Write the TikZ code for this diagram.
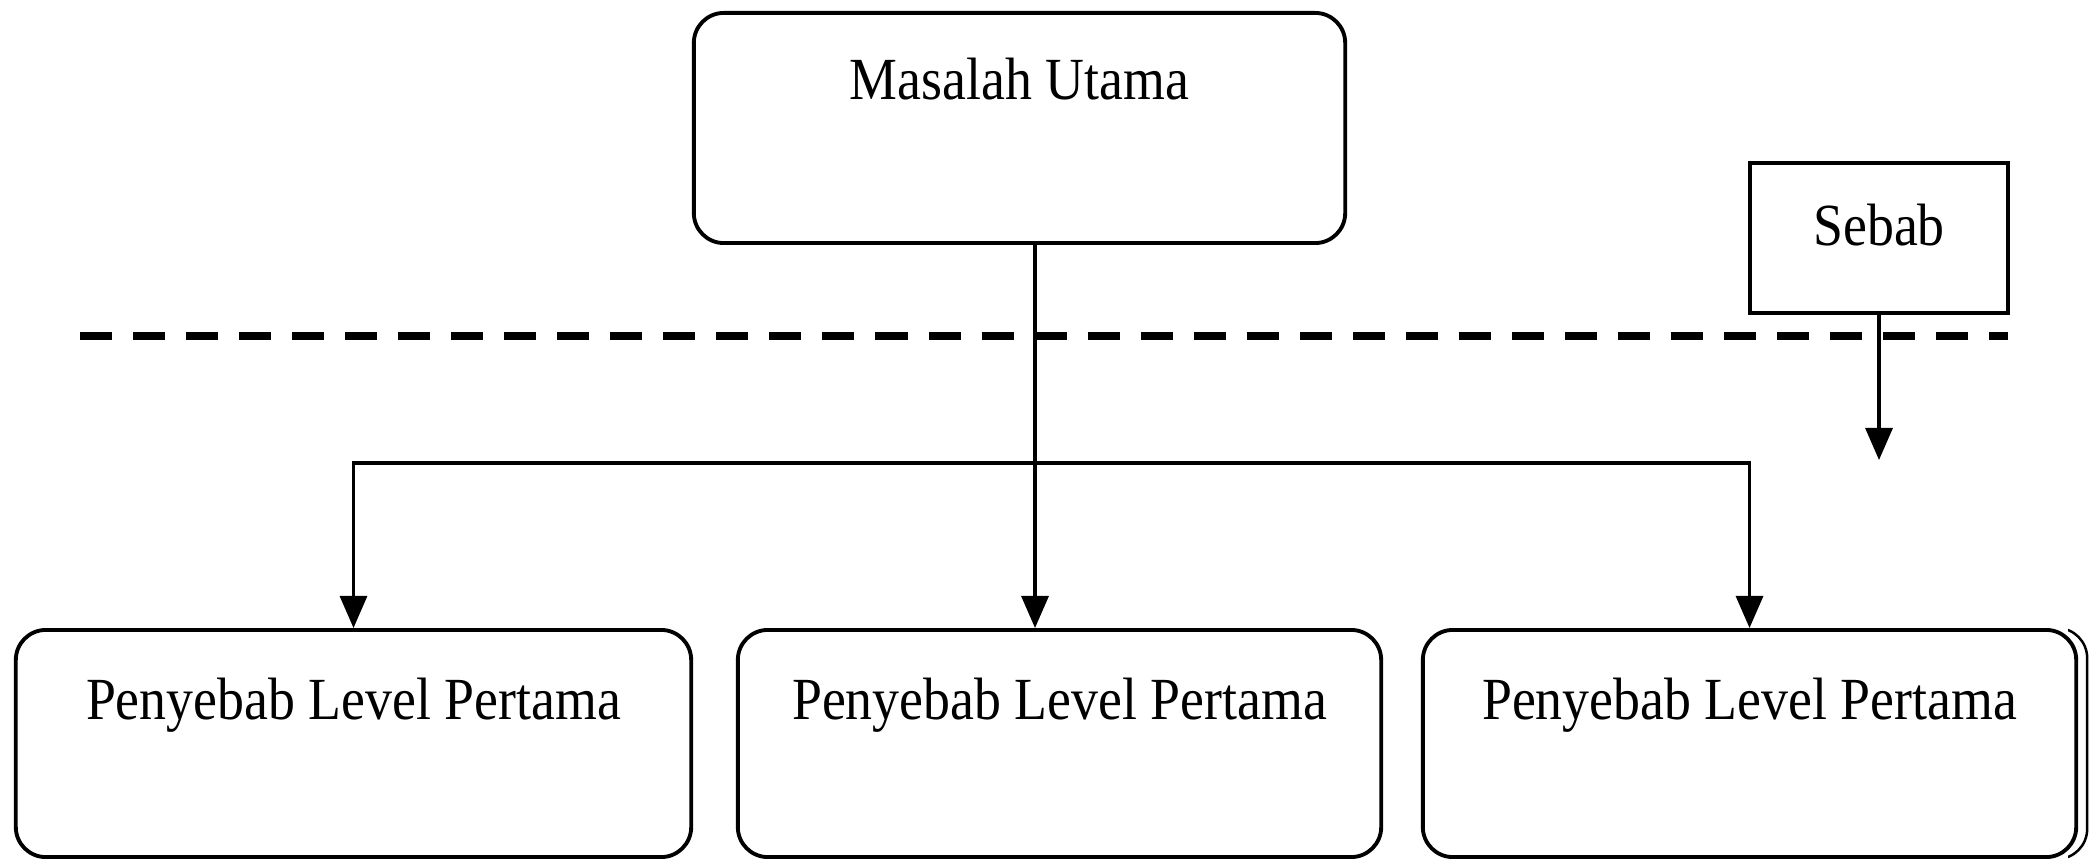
\documentclass[tikz,border=0pt]{standalone}
\usepackage{fontspec}
\setmainfont[FakeStretch=0.9]{Liberation Serif}
\usetikzlibrary{positioning,arrows.meta}
\tikzset{
	box/.style={draw, line width=1.1pt, rounded corners=0.3cm, inner sep=0pt},
	sq/.style={draw, line width=1.1pt, inner sep=0pt},
	ar/.style={line width=0.9pt, -{Triangle[width=0.27cm,length=0.32cm]}},
	dl/.style={line width=2.3pt, dash pattern=on 0.32cm off 0.21cm},
	tx/.style={inner sep=0pt, font=\fontsize{17}{20}\selectfont},
}

\begin{document}
\begin{tikzpicture}[x=0.01cm, y=-0.01cm]
	\useasboundingbox (0,0) rectangle (2092,858);

	\coordinate (d1) at (80,336);
	\coordinate (d2) at (2008,336);
	\draw [dl] (d1) -- (d2);

	\node (mu) [box, minimum width=6.51cm, minimum height=2.3cm] at (1019.5,128) {};
	\node [tx, below=0.46cm of mu.north] {Masalah Utama};

	\node (sb) [sq, minimum width=2.58cm, minimum height=1.5cm] at (1879,238) {};
	\node [tx, below=0.42cm of sb.north] {Sebab};

	\node (c1) [box, minimum width=6.75cm, minimum height=2.27cm] at (353.5,743.5) {};
	\node (c2) [box, minimum width=6.43cm, minimum height=2.27cm] at (1059.5,743.5) {};
	\node (c3) [box, minimum width=6.53cm, minimum height=2.27cm] at (1749.5,743.5) {};
	\node [tx, below=0.49cm of c1.north] {Penyebab Level Pertama};
	\node [tx, below=0.49cm of c2.north] {Penyebab Level Pertama};
	\node [tx, below=0.49cm of c3.north] {Penyebab Level Pertama};

	% doubled right edge of the third box
	\begin{scope}
		\clip ([xshift=-0.1cm]c3.north east) rectangle ([xshift=0.3cm]c3.south east);
		\draw [line width=0.7pt, rounded corners=0.3cm]
			([xshift=0.09cm]c3.north west) rectangle ([xshift=0.09cm]c3.south east);
	\end{scope}

	\coordinate (j) at (1035,463);
	\coordinate (se) at (1879,460);

	\draw [ar] (mu.south -| j) -- (j |- c2.north);
	\draw [ar] (j) -| (c1.north);
	\draw [ar] (j) -| (c3.north);
	\draw [ar] (sb.south) -- (se);
\end{tikzpicture}
\end{document}
